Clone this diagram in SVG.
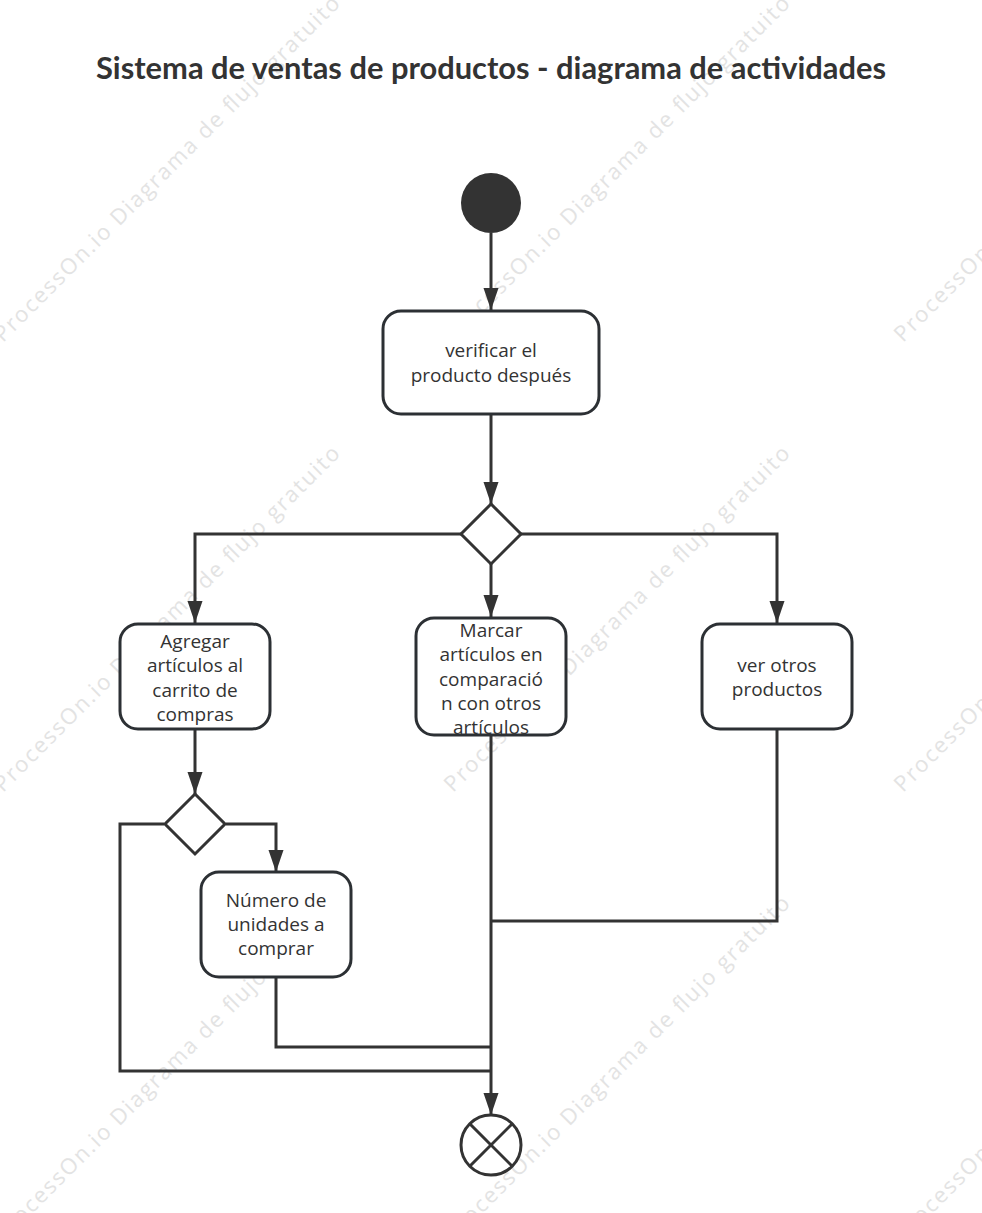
<svg xmlns="http://www.w3.org/2000/svg" width="982" height="1213" viewBox="0 0 982 1213">
<style>
.wm{font-family:"Open Sans","Noto Sans",sans-serif;font-size:22px;fill:#e3e3e3}
.title{font-family:"Lato","Open Sans",sans-serif;font-weight:bold;font-size:30px;fill:#333}
.box{fill:#fff;stroke:#2c3034;stroke-width:3}
.lbl{font-family:"Open Sans","Noto Sans",sans-serif;font-size:19px;fill:#333;text-anchor:middle}
.conn{fill:none;stroke:#333;stroke-width:3}
</style>
<defs>
<marker id="arr" markerUnits="userSpaceOnUse" markerWidth="24" markerHeight="18" refX="22" refY="8" orient="auto" viewBox="0 0 24 18">
<path d="M0,0.5 L22,8 L0,15.5 z" fill="#333"/>
</marker>
</defs>
<rect width="982" height="1213" fill="#fff"/>
<g id="watermarks">
<text class="wm" x="3" y="343" textLength="478" transform="rotate(-45 3 343)">ProcessOn.io Diagrama de flujo gratuito</text>
<text class="wm" x="453" y="343" textLength="478" transform="rotate(-45 453 343)">ProcessOn.io Diagrama de flujo gratuito</text>
<text class="wm" x="903" y="343" textLength="478" transform="rotate(-45 903 343)">ProcessOn.io Diagrama de flujo gratuito</text>
<text class="wm" x="3" y="793" textLength="478" transform="rotate(-45 3 793)">ProcessOn.io Diagrama de flujo gratuito</text>
<text class="wm" x="453" y="793" textLength="478" transform="rotate(-45 453 793)">ProcessOn.io Diagrama de flujo gratuito</text>
<text class="wm" x="903" y="793" textLength="478" transform="rotate(-45 903 793)">ProcessOn.io Diagrama de flujo gratuito</text>
<text class="wm" x="3" y="1243" textLength="478" transform="rotate(-45 3 1243)">ProcessOn.io Diagrama de flujo gratuito</text>
<text class="wm" x="453" y="1243" textLength="478" transform="rotate(-45 453 1243)">ProcessOn.io Diagrama de flujo gratuito</text>
<text class="wm" x="903" y="1243" textLength="478" transform="rotate(-45 903 1243)">ProcessOn.io Diagrama de flujo gratuito</text>
</g>
<g id="title">
<text class="title" x="96" y="79" textLength="790" lengthAdjust="spacingAndGlyphs">Sistema de ventas de productos - diagrama de actividades</text>
</g>
<g id="connectors">
<line class="conn" x1="491" y1="233" x2="491" y2="310" marker-end="url(#arr)"/>
<line class="conn" x1="491" y1="415" x2="491" y2="504" marker-end="url(#arr)"/>
<polyline class="conn" points="461,534 195,534 195,623" marker-end="url(#arr)"/>
<line class="conn" x1="491" y1="564" x2="491" y2="617" marker-end="url(#arr)"/>
<polyline class="conn" points="521,534 777,534 777,623" marker-end="url(#arr)"/>
<line class="conn" x1="195" y1="729" x2="195" y2="794" marker-end="url(#arr)"/>
<polyline class="conn" points="226,824 276,824 276,872" marker-end="url(#arr)"/>
<polyline class="conn" points="164,824 120,824 120,1071 491,1071"/>
<polyline class="conn" points="276,977 276,1047 491,1047"/>
<polyline class="conn" points="777,729 777,921 491,921"/>
<line class="conn" x1="491" y1="735" x2="491" y2="1115" marker-end="url(#arr)"/>
</g>
<g id="start">
<circle cx="491" cy="203" r="30" fill="#333"/>
</g>
<g id="verificar">
<rect class="box" x="383" y="311" width="216" height="103" rx="18"/>
<text class="lbl" x="491" y="357">verificar el</text>
<text class="lbl" x="491" y="382">producto después</text>
</g>
<g id="decision1">
<polygon points="491,504 521,534 491,564 461,534" fill="#fff" stroke="#333" stroke-width="3"/>
</g>
<g id="agregar">
<rect class="box" x="120" y="624" width="150" height="105" rx="18"/>
<text class="lbl" x="195" y="648">Agregar</text>
<text class="lbl" x="195" y="672">artículos al</text>
<text class="lbl" x="195" y="697">carrito de</text>
<text class="lbl" x="195" y="721">compras</text>
</g>
<g id="marcar">
<rect class="box" x="416" y="618" width="150" height="117" rx="18"/>
<text class="lbl" x="491" y="637">Marcar</text>
<text class="lbl" x="491" y="661">artículos en</text>
<text class="lbl" x="491" y="686">comparació</text>
<text class="lbl" x="491" y="710">n con otros</text>
<text class="lbl" x="491" y="734">artículos</text>
</g>
<g id="verotros">
<rect class="box" x="702" y="624" width="150" height="105" rx="18"/>
<text class="lbl" x="777" y="672">ver otros</text>
<text class="lbl" x="777" y="696">productos</text>
</g>
<g id="decision2">
<polygon points="195,794 225,824 195,854 165,824" fill="#fff" stroke="#333" stroke-width="3"/>
</g>
<g id="numero">
<rect class="box" x="201" y="872" width="150" height="105" rx="18"/>
<text class="lbl" x="276" y="907">Número de</text>
<text class="lbl" x="276" y="931">unidades a</text>
<text class="lbl" x="276" y="955">comprar</text>
</g>
<g id="end">
<circle cx="491" cy="1145" r="30" fill="#fff" stroke="#333" stroke-width="3"/>
<line x1="470" y1="1124" x2="512" y2="1166" stroke="#333" stroke-width="3"/>
<line x1="512" y1="1124" x2="470" y2="1166" stroke="#333" stroke-width="3"/>
</g>
</svg>
